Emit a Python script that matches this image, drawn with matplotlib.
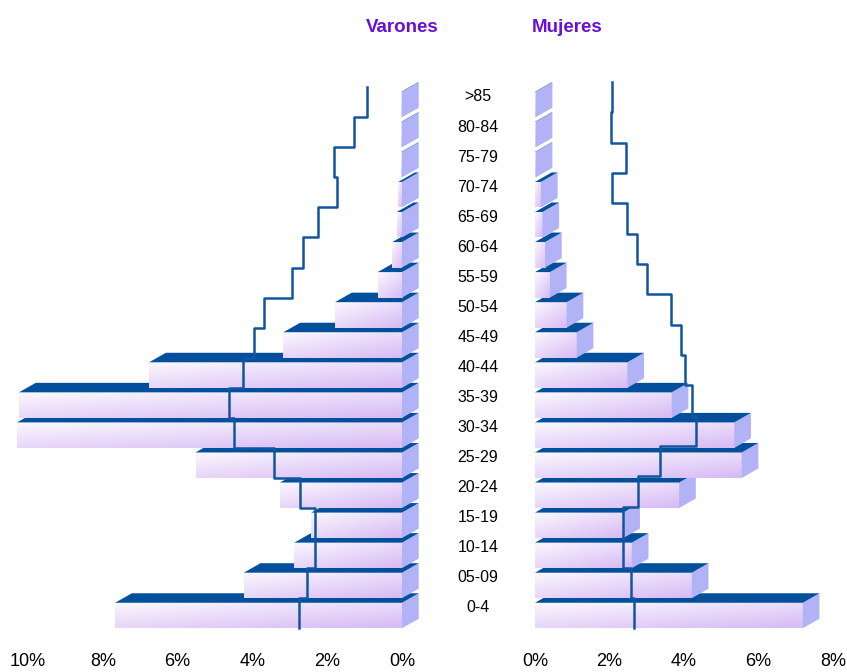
import numpy as np
import matplotlib
matplotlib.use('Agg')
import matplotlib.pyplot as plt
import matplotlib.transforms as mtransforms
from matplotlib.colors import LinearSegmentedColormap
from matplotlib.patches import Polygon

plt.rcParams['font.family'] = ['Liberation Sans', 'DejaVu Sans']

# age groups, bottom to top
ages = ['0-4', '05-09', '10-14', '15-19', '20-24', '25-29', '30-34', '35-39', '40-44',
        '45-49', '50-54', '55-59', '60-64', '65-69', '70-74', '75-79', '80-84', '>85']
# bars (% of population)
varones = [7.67, 4.23, 2.88, 2.43, 3.26, 5.52, 10.29, 10.24, 6.76,
           3.17, 1.79, 0.65, 0.26, 0.14, 0.10, 0.02, 0.02, 0.02]
mujeres = [7.19, 4.21, 2.60, 2.37, 3.87, 5.55, 5.35, 3.67, 2.48,
           1.12, 0.85, 0.40, 0.27, 0.20, 0.16, 0.02, 0.02, 0.02]
# reference population (step line)
varones_ref = [2.75, 2.53, 2.32, 2.32, 2.73, 3.41, 4.48, 4.63, 4.24,
               3.95, 3.69, 2.95, 2.66, 2.25, 1.73, 1.81, 1.27, 0.93]
mujeres_ref = [2.67, 2.58, 2.35, 2.35, 2.77, 3.36, 4.31, 4.22, 4.04,
               3.92, 3.64, 3.00, 2.75, 2.48, 2.08, 2.44, 2.03, 2.08]
ticks_v = [0, 2, 4, 6, 8, 10]
ticks_m = [0, 2, 4, 6, 8]

# 3D look
H = 0.424      # half height of the front face (rows)
DY = 0.316     # depth, vertical (rows)
DX = 0.447     # depth, horizontal (%)
TOP = '#02509c'
SIDE = '#b2b2f7'
LINE = '#11559f'
TITLE = '#6a0fd6'
cmap = LinearSegmentedColormap.from_list('front', ['#fbf8fe', '#d7bbf5'])
nr, nc = 16, 64
rr, cc = np.mgrid[0:nr, 0:nc]
grad = 0.45 * cc / (nc - 1) + 0.55 * rr / (nr - 1)

fig = plt.figure(figsize=(8.47, 6.72), dpi=100)
W, Hf = 847, 672
bot, hgt = 32 / Hf, 580 / Hf
ax_m = fig.add_axes([10 / W, bot, 415 / W, hgt])
ax_f = fig.add_axes([520 / W, bot, 327 / W, hgt])


def draw_side(ax, values, ref, male, step):
    off = -DX if male else DX
    for i, v in enumerate(values):
        y0, y1 = i - H, i + H
        xl, xr = (v, 0) if male else (0, v)
        z = 2 + i * 0.1
        ax.imshow(grad, cmap=cmap, extent=(xl, xr, y0, y1), origin='upper',
                  aspect='auto', interpolation='bilinear', zorder=z)
        ax.add_patch(Polygon([(xr, y0), (xr + off, y0 + DY), (xr + off, y1 + DY), (xr, y1)],
                             closed=True, fc=SIDE, ec='none', zorder=z))
        ax.add_patch(Polygon([(xl, y1), (xr, y1), (xr + off, y1 + DY), (xl + off, y1 + DY)],
                             closed=True, fc=TOP, ec='none', zorder=z))
    edges = -H + np.arange(len(ref) + 1) * step
    ys = np.repeat(edges, 2)[1:-1]
    xs = np.repeat(ref, 2)
    ax.plot(xs, ys, color=LINE, lw=1.8, zorder=20)


draw_side(ax_m, varones, varones_ref, True, 1.0)
draw_side(ax_f, mujeres, mujeres_ref, False, 1.0097)

ax_m.set_xlim(10.48, -0.615)
ax_f.set_xlim(-0.403, 8.376)
for ax, ticks in ((ax_m, ticks_v), (ax_f, ticks_m)):
    ax.set_ylim(-0.815, 18.48)
    ax.set_xticks(ticks)
    ax.set_xticklabels([f'{t}%' for t in ticks])
    ax.tick_params(axis='x', length=0, pad=9, labelsize=13)
    ax.set_yticks([])
    for s in ax.spines.values():
        s.set_visible(False)

trans = mtransforms.blended_transform_factory(fig.transFigure, ax_m.transData)
for i, a in enumerate(ages):
    ax_m.text(478 / W, i + 0.25, a, transform=trans, ha='center', va='center',
              fontsize=11.5, clip_on=False)

fig.text(402 / W, 1 - 27 / Hf, 'Varones', ha='center', va='center',
         fontsize=13.5, fontweight='bold', color=TITLE)
fig.text(567 / W, 1 - 27 / Hf, 'Mujeres', ha='center', va='center',
         fontsize=13.5, fontweight='bold', color=TITLE)

fig.savefig('out.png', dpi=100)
